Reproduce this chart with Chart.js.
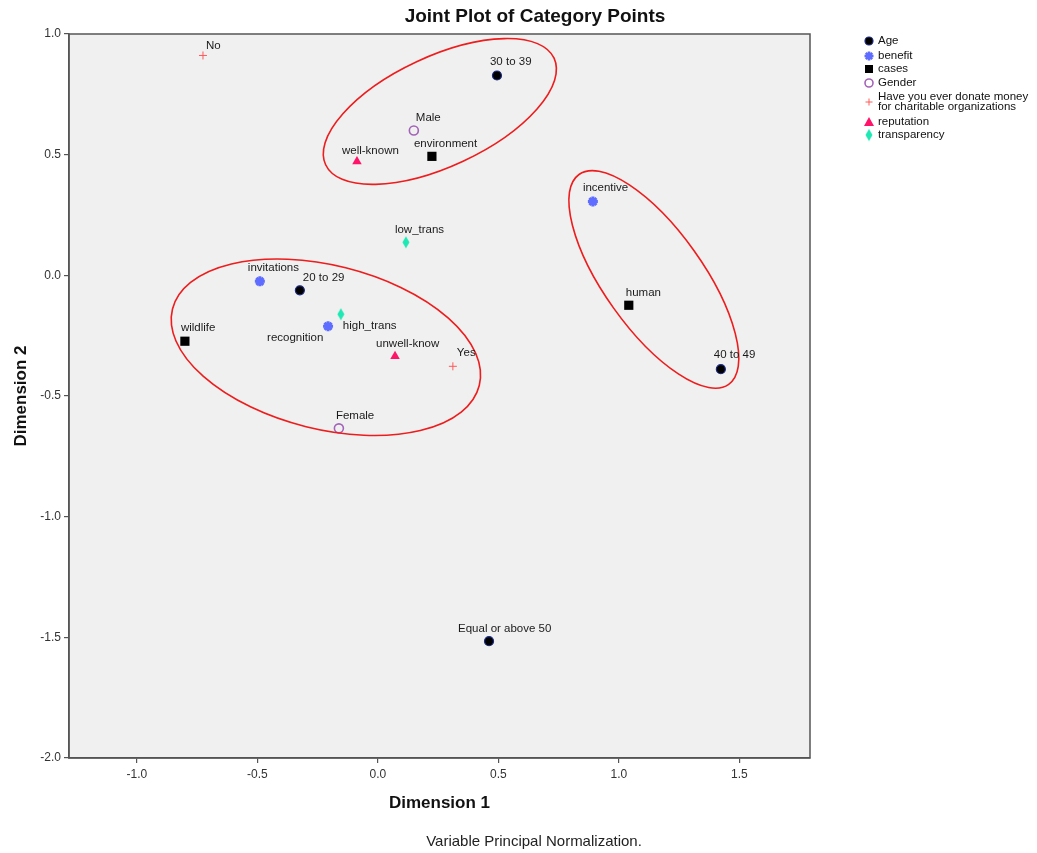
<!DOCTYPE html>
<html lang="en">
<head>
    <meta charset="UTF-8">
    <title>Joint Plot of Category Points</title>
    <style>
        body { margin: 0; background: #ffffff; }
        canvas { display: block; }
    </style>
    <script src="https://cdn.jsdelivr.net/npm/chart.js"></script>
</head>
<body>
    <canvas id="jointPlot" width="1037" height="853"></canvas>

    <script>
        // category points (Dimension 1, Dimension 2)
        const ageNames = ['20 to 29', '30 to 39', '40 to 49', 'Equal or above 50'];
        const ageDim1 = [-0.324, 0.494, 1.423, 0.461];
        const ageDim2 = [-0.062, 0.828, -0.389, -1.516];

        const benefitNames = ['incentive', 'invitations', 'recognition'];
        const benefitDim1 = [0.892, -0.490, -0.207];
        const benefitDim2 = [0.306, -0.025, -0.211];

        const casesNames = ['environment', 'human', 'wildlife'];
        const casesDim1 = [0.224, 1.041, -0.801];
        const casesDim2 = [0.493, -0.124, -0.273];

        const genderNames = ['Male', 'Female'];
        const genderDim1 = [0.149, -0.162];
        const genderDim2 = [0.600, -0.634];

        const donateNames = ['No', 'Yes'];
        const donateDim1 = [-0.726, 0.311];
        const donateDim2 = [0.911, -0.377];

        const reputationNames = ['well-known', 'unwell-know'];
        const reputationDim1 = [-0.087, 0.071];
        const reputationDim2 = [0.472, -0.335];

        const transparencyNames = ['low_trans', 'high_trans'];
        const transparencyDim1 = [0.116, -0.154];
        const transparencyDim2 = [0.137, -0.161];

        const dim1Ticks = [-1.0, -0.5, 0.0, 0.5, 1.0, 1.5];
        const dim2Ticks = [1.0, 0.5, 0.0, -0.5, -1.0, -1.5, -2.0];

        // label placement next to each point (pixels: left edge, text middle)
        const labelShift = {
            '20 to 29': [3, -12], '30 to 39': [-7, -14], '40 to 49': [-7, -14], 'Equal or above 50': [-31, -12],
            'incentive': [-10, -14], 'invitations': [-12, -14], 'recognition': [-61, 12],
            'environment': [-18, -13], 'human': [-3, -12], 'wildlife': [-4, -13],
            'Male': [2, -13], 'Female': [-3, -13],
            'No': [3, -10], 'Yes': [4, -13],
            'well-known': [-15, -11], 'unwell-know': [-19, -12],
            'low_trans': [-11, -12], 'high_trans': [2, 12]
        };

        // circled groups: centre (dim1, dim2), half axes in dim1 units, angle in degrees
        const rings = [
            { cx: 0.257, cy: 0.679, a: 0.523, b: 0.228, angle: 25 },
            { cx: -0.216, cy: -0.298, a: 0.656, b: 0.340, angle: -14 },
            { cx: 1.145, cy: -0.017, a: 0.535, b: 0.205, angle: -54.5 }
        ];

        const FONT = 'Arial, "Liberation Sans", sans-serif';

        function toPoints(xs, ys) {
            return xs.map((x, i) => ({ x: x, y: ys[i] }));
        }

        // narrow diamond for transparency
        const diamond = document.createElement('canvas');
        diamond.width = 8;
        diamond.height = 13;
        (function () {
            const c = diamond.getContext('2d');
            c.fillStyle = '#1ee8b4';
            c.beginPath();
            c.moveTo(4, 0.5); c.lineTo(7.5, 6.5); c.lineTo(4, 12.5); c.lineTo(0.5, 6.5);
            c.closePath();
            c.fill();
        })();

        const groups = [
            { label: 'Age', names: ageNames, data: toPoints(ageDim1, ageDim2),
              pointStyle: 'circle', pointRadius: 4.5, backgroundColor: '#000000', borderColor: '#1c2a80', borderWidth: 1.2 },
            { label: 'benefit', names: benefitNames, data: toPoints(benefitDim1, benefitDim2),
              pointStyle: 'star', pointRadius: 5, backgroundColor: '#5e6cff', borderColor: '#5e6cff', borderWidth: 3 },
            { label: 'cases', names: casesNames, data: toPoints(casesDim1, casesDim2),
              pointStyle: 'rect', pointRadius: 6.5, backgroundColor: '#000000', borderColor: '#000000', borderWidth: 0 },
            { label: 'Gender', names: genderNames, data: toPoints(genderDim1, genderDim2),
              pointStyle: 'circle', pointRadius: 4.5, backgroundColor: 'rgba(0,0,0,0)', borderColor: '#a264b8', borderWidth: 1.6 },
            { label: 'Have you ever donate money for charitable organizations', names: donateNames, data: toPoints(donateDim1, donateDim2),
              pointStyle: 'cross', pointRadius: 4, backgroundColor: '#ff5a5a', borderColor: '#ff5a5a', borderWidth: 1 },
            { label: 'reputation', names: reputationNames, data: toPoints(reputationDim1, reputationDim2),
              pointStyle: 'triangle', pointRadius: 5.5, backgroundColor: '#ff1469', borderColor: '#ff1469', borderWidth: 0 },
            { label: 'transparency', names: transparencyNames, data: toPoints(transparencyDim1, transparencyDim2),
              pointStyle: diamond, pointRadius: 6, backgroundColor: '#1ee8b4', borderColor: '#1ee8b4', borderWidth: 0 }
        ];

        const legendRows = [
            { text: ['Age'], y: 41 },
            { text: ['benefit'], y: 56 },
            { text: ['cases'], y: 69 },
            { text: ['Gender'], y: 83 },
            { text: ['Have you ever donate money', 'for charitable organizations'], y: 102 },
            { text: ['reputation'], y: 122 },
            { text: ['transparency'], y: 135 }
        ];

        function drawLegendMarker(ctx, i, x, y) {
            ctx.save();
            ctx.beginPath();
            if (i === 0) {
                ctx.fillStyle = '#000000'; ctx.strokeStyle = '#1c2a80'; ctx.lineWidth = 1.2;
                ctx.arc(x, y, 4, 0, Math.PI * 2); ctx.fill(); ctx.stroke();
            } else if (i === 1) {
                ctx.strokeStyle = '#5e6cff'; ctx.lineWidth = 2.5;
                for (let k = 0; k < 4; k++) {
                    const t = k * Math.PI / 4;
                    ctx.moveTo(x - 4.5 * Math.cos(t), y - 4.5 * Math.sin(t));
                    ctx.lineTo(x + 4.5 * Math.cos(t), y + 4.5 * Math.sin(t));
                }
                ctx.stroke();
            } else if (i === 2) {
                ctx.fillStyle = '#000000'; ctx.fillRect(x - 4, y - 4, 8, 8);
            } else if (i === 3) {
                ctx.strokeStyle = '#a264b8'; ctx.lineWidth = 1.6;
                ctx.arc(x, y, 4, 0, Math.PI * 2); ctx.stroke();
            } else if (i === 4) {
                ctx.strokeStyle = '#ff5a5a'; ctx.lineWidth = 1;
                ctx.moveTo(x - 3.5, y); ctx.lineTo(x + 3.5, y);
                ctx.moveTo(x, y - 3.5); ctx.lineTo(x, y + 3.5); ctx.stroke();
            } else if (i === 5) {
                ctx.fillStyle = '#ff1469';
                ctx.moveTo(x, y - 5); ctx.lineTo(x + 5, y + 4); ctx.lineTo(x - 5, y + 4);
                ctx.closePath(); ctx.fill();
            } else {
                ctx.drawImage(diamond, x - 4, y - 6.5);
            }
            ctx.restore();
        }

        const decor = {
            id: 'decor',
            beforeDraw(chart) {
                const { ctx, chartArea: a } = chart;
                ctx.save();
                ctx.fillStyle = '#ffffff';
                ctx.fillRect(0, 0, chart.width, chart.height);
                ctx.fillStyle = '#f0f0f0';
                ctx.fillRect(a.left, a.top, a.right - a.left, a.bottom - a.top);
                ctx.restore();
            },
            afterDatasetsDraw(chart) {
                const { ctx, chartArea: a, scales } = chart;
                const pxPerUnit = scales.x.getPixelForValue(1) - scales.x.getPixelForValue(0);

                // ellipses round the groups
                ctx.save();
                ctx.strokeStyle = '#ee1c1c';
                ctx.lineWidth = 1.6;
                rings.forEach(r => {
                    ctx.beginPath();
                    ctx.ellipse(scales.x.getPixelForValue(r.cx), scales.y.getPixelForValue(r.cy),
                        r.a * pxPerUnit, r.b * pxPerUnit, -r.angle * Math.PI / 180, 0, Math.PI * 2);
                    ctx.stroke();
                });
                ctx.restore();

                // point labels
                ctx.save();
                ctx.font = '11.5px ' + FONT;
                ctx.fillStyle = '#1a1a1a';
                ctx.textBaseline = 'middle';
                ctx.textAlign = 'left';
                chart.data.datasets.forEach((ds, i) => {
                    chart.getDatasetMeta(i).data.forEach((pt, j) => {
                        const name = ds.names[j];
                        const s = labelShift[name] || [4, -12];
                        ctx.fillText(name, pt.x + s[0], pt.y + s[1]);
                    });
                });
                ctx.restore();

                // frame
                ctx.save();
                ctx.strokeStyle = '#555555';
                ctx.lineWidth = 1.5;
                ctx.strokeRect(a.left, a.top, a.right - a.left, a.bottom - a.top);
                ctx.restore();
            },
            afterDraw(chart) {
                const { ctx, chartArea: a } = chart;
                ctx.save();
                ctx.fillStyle = '#111111';
                ctx.textAlign = 'center';
                ctx.textBaseline = 'middle';

                ctx.font = 'bold 19px ' + FONT;
                ctx.fillText('Joint Plot of Category Points', 535, 17);

                ctx.font = 'bold 17px ' + FONT;
                ctx.fillText('Dimension 1', (a.left + a.right) / 2, 803);
                ctx.save();
                ctx.translate(21, (a.top + a.bottom) / 2);
                ctx.rotate(-Math.PI / 2);
                ctx.fillText('Dimension 2', 0, 0);
                ctx.restore();

                ctx.font = '15px ' + FONT;
                ctx.fillStyle = '#222222';
                ctx.fillText('Variable Principal Normalization.', 534, 842);

                // legend
                ctx.font = '11.5px ' + FONT;
                ctx.textAlign = 'left';
                ctx.fillStyle = '#111111';
                legendRows.forEach((row, i) => {
                    drawLegendMarker(ctx, i, 869, row.y);
                    const top = row.y - (row.text.length - 1) * 5.2;
                    row.text.forEach((t, k) => ctx.fillText(t, 878, top + k * 10.4));
                });
                ctx.restore();
            }
        };

        new Chart(document.getElementById('jointPlot').getContext('2d'), {
            type: 'scatter',
            data: { datasets: groups },
            options: {
                responsive: false,
                animation: false,
                events: [],
                layout: { padding: { left: 0, right: 227, top: 34, bottom: 0 } },
                plugins: {
                    legend: { display: false },
                    title: { display: false },
                    tooltip: { enabled: false }
                },
                scales: {
                    x: {
                        type: 'linear',
                        min: -1.282,
                        max: 1.793,
                        afterBuildTicks: s => { s.ticks = dim1Ticks.map(v => ({ value: v })); },
                        afterFit: s => { s.height = 95; },
                        ticks: {
                            callback: v => v.toFixed(1),
                            font: { family: FONT, size: 12 },
                            color: '#333333',
                            padding: 4,
                            maxRotation: 0,
                            autoSkip: false
                        },
                        grid: { drawOnChartArea: false, drawTicks: true, tickLength: 5, color: '#555555', lineWidth: 1.2 },
                        border: { color: '#555555', width: 1.5 }
                    },
                    y: {
                        type: 'linear',
                        min: -2.0,
                        max: 1.0,
                        afterBuildTicks: s => { s.ticks = dim2Ticks.map(v => ({ value: v })); },
                        afterFit: s => { s.width = 69; },
                        ticks: {
                            callback: v => v.toFixed(1),
                            font: { family: FONT, size: 12 },
                            color: '#333333',
                            padding: 3,
                            autoSkip: false
                        },
                        grid: { drawOnChartArea: false, drawTicks: true, tickLength: 5, color: '#555555', lineWidth: 1.2 },
                        border: { color: '#555555', width: 1.5 }
                    }
                }
            },
            plugins: [decor]
        });
    </script>
</body>
</html>
